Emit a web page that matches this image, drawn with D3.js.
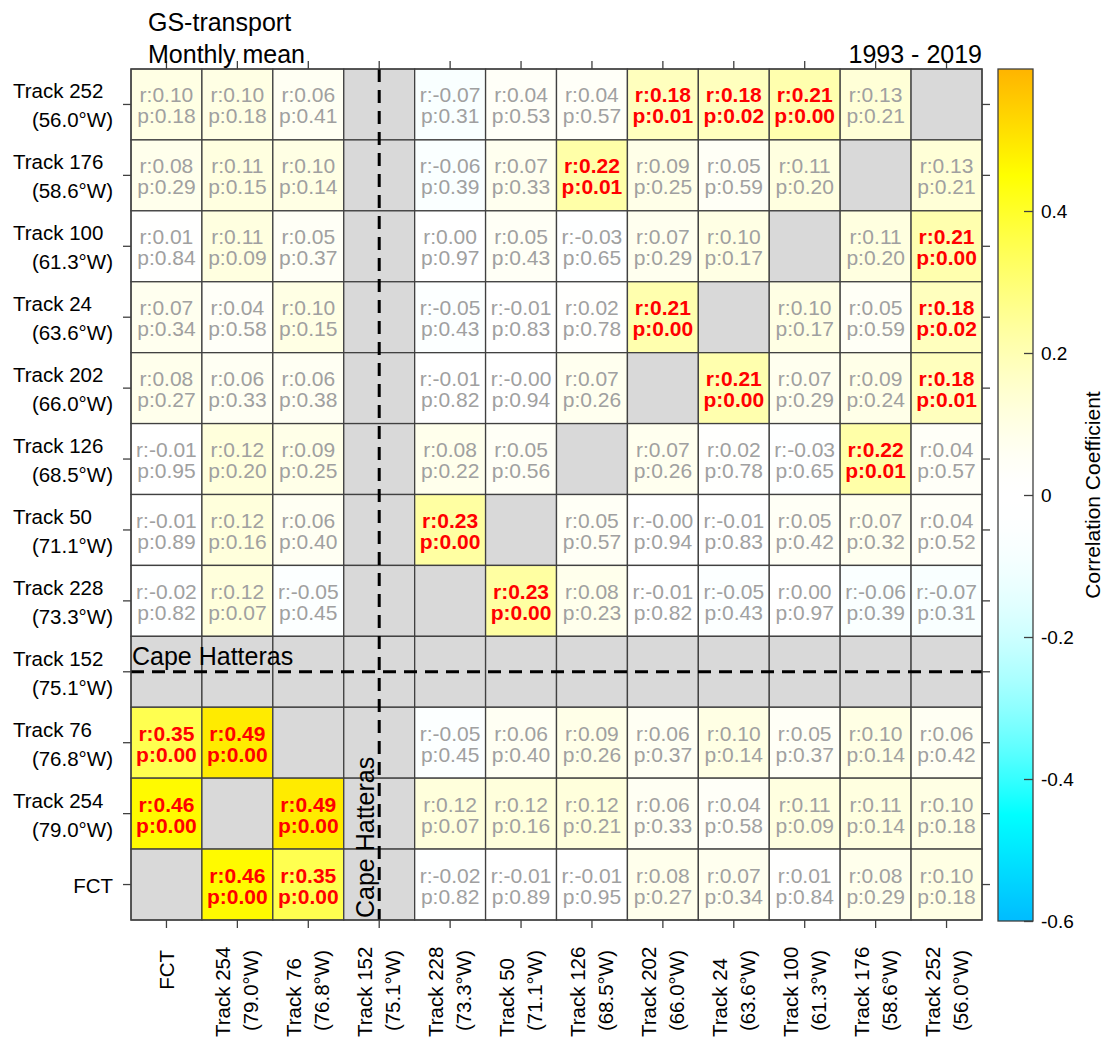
<!DOCTYPE html>
<html>
<head>
<meta charset="utf-8">
<script src="https://cdn.jsdelivr.net/npm/d3@7"></script>
<style>
  body { margin: 0; background: #fff; }
  svg { font-family: "Liberation Sans", Arial, sans-serif; }
</style>
</head>
<body>
<div id="chart"></div>
<script>
// rows top -> bottom, columns left -> right
const rowNames = ["Track 252", "Track 176", "Track 100", "Track 24", "Track 202", "Track 126",
                  "Track 50", "Track 228", "Track 152", "Track 76", "Track 254", "FCT"];
const rowLons = ["(56.0°W)", "(58.6°W)", "(61.3°W)", "(63.6°W)", "(66.0°W)", "(68.5°W)",
                 "(71.1°W)", "(73.3°W)", "(75.1°W)", "(76.8°W)", "(79.0°W)", ""];
const colNames = ["FCT", "Track 254", "Track 76", "Track 152", "Track 228", "Track 50",
                  "Track 126", "Track 202", "Track 24", "Track 100", "Track 176", "Track 252"];
const colLons = ["", "(79.0°W)", "(76.8°W)", "(75.1°W)", "(73.3°W)", "(71.1°W)",
                 "(68.5°W)", "(66.0°W)", "(63.6°W)", "(61.3°W)", "(58.6°W)", "(56.0°W)"];

// correlation coefficient r (null = no value, grey cell)
const rVals = [
  [0.10, 0.10, 0.06, null, -0.07, 0.04, 0.04, 0.18, 0.18, 0.21, 0.13, null],
  [0.08, 0.11, 0.10, null, -0.06, 0.07, 0.22, 0.09, 0.05, 0.11, null, 0.13],
  [0.01, 0.11, 0.05, null, 0.00, 0.05, -0.03, 0.07, 0.10, null, 0.11, 0.21],
  [0.07, 0.04, 0.10, null, -0.05, -0.01, 0.02, 0.21, null, 0.10, 0.05, 0.18],
  [0.08, 0.06, 0.06, null, -0.01, -0, 0.07, null, 0.21, 0.07, 0.09, 0.18],
  [-0.01, 0.12, 0.09, null, 0.08, 0.05, null, 0.07, 0.02, -0.03, 0.22, 0.04],
  [-0.01, 0.12, 0.06, null, 0.23, null, 0.05, -0, -0.01, 0.05, 0.07, 0.04],
  [-0.02, 0.12, -0.05, null, null, 0.23, 0.08, -0.01, -0.05, 0.00, -0.06, -0.07],
  [null, null, null, null, null, null, null, null, null, null, null, null],
  [0.35, 0.49, null, null, -0.05, 0.06, 0.09, 0.06, 0.10, 0.05, 0.10, 0.06],
  [0.46, null, 0.49, null, 0.12, 0.12, 0.12, 0.06, 0.04, 0.11, 0.11, 0.10],
  [null, 0.46, 0.35, null, -0.02, -0.01, -0.01, 0.08, 0.07, 0.01, 0.08, 0.10]
];
// p-values
const pVals = [
  [0.18, 0.18, 0.41, null, 0.31, 0.53, 0.57, 0.01, 0.02, 0.00, 0.21, null],
  [0.29, 0.15, 0.14, null, 0.39, 0.33, 0.01, 0.25, 0.59, 0.20, null, 0.21],
  [0.84, 0.09, 0.37, null, 0.97, 0.43, 0.65, 0.29, 0.17, null, 0.20, 0.00],
  [0.34, 0.58, 0.15, null, 0.43, 0.83, 0.78, 0.00, null, 0.17, 0.59, 0.02],
  [0.27, 0.33, 0.38, null, 0.82, 0.94, 0.26, null, 0.00, 0.29, 0.24, 0.01],
  [0.95, 0.20, 0.25, null, 0.22, 0.56, null, 0.26, 0.78, 0.65, 0.01, 0.57],
  [0.89, 0.16, 0.40, null, 0.00, null, 0.57, 0.94, 0.83, 0.42, 0.32, 0.52],
  [0.82, 0.07, 0.45, null, null, 0.00, 0.23, 0.82, 0.43, 0.97, 0.39, 0.31],
  [null, null, null, null, null, null, null, null, null, null, null, null],
  [0.00, 0.00, null, null, 0.45, 0.40, 0.26, 0.37, 0.14, 0.37, 0.14, 0.42],
  [0.00, null, 0.00, null, 0.07, 0.16, 0.21, 0.33, 0.58, 0.09, 0.14, 0.18],
  [null, 0.00, 0.00, null, 0.82, 0.89, 0.95, 0.27, 0.34, 0.84, 0.29, 0.18]
];
const colorTicks = [-0.6, -0.4, -0.2, 0, 0.2, 0.4];

const W = 1103, H = 1040;
const pLeft = 131, pRight = 982, pTop = 69, pBottom = 920;
const lineCol = "#404040";

const svg = d3.select("#chart").append("svg")
  .attr("width", W)
  .attr("height", H);

const x = d3.scaleBand().domain(colNames).range([pLeft, pRight]);
const y = d3.scaleBand().domain(rowNames).range([pTop, pBottom]);

// white -> yellow -> orange for positive, white -> cyan -> blue for negative
function corrColor(v) {
  const a = Math.abs(v);
  if (v >= 0) {
    if (a <= 0.45) return d3.interpolateRgb("#ffffff", "#ffff00")(Math.pow(a / 0.45, 1.5));
    return d3.interpolateRgb("#ffff00", "#ffb400")((a - 0.45) / 0.15);
  } else {
    if (a <= 0.45) return d3.interpolateRgb("#ffffff", "#00ffff")(Math.pow(a / 0.45, 2));
    return d3.interpolateRgb("#00ffff", "#00bcff")((a - 0.45) / 0.15);
  }
}
function fmt(v) {
  return (v < 0 || Object.is(v, -0) ? "-" : "") + Math.abs(v).toFixed(2);
}

const cells = [];
rowNames.forEach(function(rn, i) {
  colNames.forEach(function(cn, j) {
    cells.push({row: rn, col: cn, r: rVals[i][j], p: pVals[i][j]});
  });
});

// cells
svg.append("g").selectAll("rect")
  .data(cells)
  .join("rect")
    .attr("x", function(d) { return x(d.col); })
    .attr("y", function(d) { return y(d.row); })
    .attr("width", x.bandwidth())
    .attr("height", y.bandwidth())
    .style("fill", function(d) { return d.r === null ? "#d9d9d9" : corrColor(d.r); })
    .style("stroke", lineCol)
    .style("stroke-width", 1.3);

// cell text
const txt = svg.append("g").selectAll("text")
  .data(cells.filter(function(d) { return d.r !== null; }))
  .join("text")
    .attr("text-anchor", "middle")
    .style("font-size", "21px")
    .style("font-weight", function(d) { return d.p < 0.05 ? "bold" : "normal"; })
    .style("fill", function(d) { return d.p < 0.05 ? "#ff0000" : "#a0a0a0"; });
txt.append("tspan")
  .attr("x", function(d) { return x(d.col) + x.bandwidth() / 2; })
  .attr("y", function(d) { return y(d.row) + y.bandwidth() / 2 - 2; })
  .text(function(d) { return "r:" + fmt(d.r); });
txt.append("tspan")
  .attr("x", function(d) { return x(d.col) + x.bandwidth() / 2; })
  .attr("y", function(d) { return y(d.row) + y.bandwidth() / 2 + 19; })
  .text(function(d) { return "p:" + fmt(d.p); });

// Cape Hatteras dashed lines
const capeX = x("Track 152") + x.bandwidth() / 2;
const capeY = y("Track 152") + y.bandwidth() / 2;
svg.append("line")
  .attr("x1", pLeft).attr("x2", pRight)
  .attr("y1", capeY).attr("y2", capeY)
  .style("stroke", "#000").style("stroke-width", 3)
  .style("stroke-dasharray", "13,8");
svg.append("line")
  .attr("x1", capeX).attr("x2", capeX)
  .attr("y1", pTop).attr("y2", pBottom)
  .style("stroke", "#000").style("stroke-width", 3)
  .style("stroke-dasharray", "13,8");
svg.append("text")
  .attr("x", pLeft + 1)
  .attr("y", capeY - 7)
  .style("font-size", "25px")
  .text("Cape Hatteras");
svg.append("text")
  .attr("transform", `translate(${capeX - 5}, ${pBottom - 2}) rotate(-90)`)
  .style("font-size", "25px")
  .text("Cape Hatteras");

// frame
svg.append("rect")
  .attr("x", pLeft).attr("y", pTop)
  .attr("width", pRight - pLeft).attr("height", pBottom - pTop)
  .style("fill", "none").style("stroke", lineCol).style("stroke-width", 1.3);

// tick marks on all four sides
function ticksOnly(g) {
  g.select(".domain").remove();
  g.selectAll(".tick line").style("stroke", lineCol).style("stroke-width", 1.3);
}
svg.append("g").attr("transform", `translate(${pLeft},0)`)
  .call(d3.axisLeft(y).tickSize(8).tickFormat("")).call(ticksOnly);
svg.append("g").attr("transform", `translate(${pRight},0)`)
  .call(d3.axisRight(y).tickSize(8).tickFormat("")).call(ticksOnly);
svg.append("g").attr("transform", `translate(0,${pTop})`)
  .call(d3.axisTop(x).tickSize(8).tickFormat("")).call(ticksOnly);
svg.append("g").attr("transform", `translate(0,${pBottom})`)
  .call(d3.axisBottom(x).tickSize(8).tickFormat("")).call(ticksOnly);

// y tick labels
const yLab = svg.append("g").selectAll("g")
  .data(rowNames)
  .join("g")
    .style("font-size", "20.5px")
    .style("fill", "#000");
yLab.each(function(d, i) {
  const g = d3.select(this);
  const cy = y(d) + y.bandwidth() / 2;
  if (rowLons[i] === "") {
    g.append("text").attr("x", 113).attr("y", cy + 8).attr("text-anchor", "end").text(d);
  } else {
    g.append("text").attr("x", 13).attr("y", cy - 6).text(d);
    g.append("text").attr("x", 113).attr("y", cy + 23).attr("text-anchor", "end").text(rowLons[i]);
  }
});

// x tick labels (rotated)
const xLab = svg.append("g").selectAll("g")
  .data(colNames)
  .join("g")
    .style("font-size", "20.5px")
    .style("fill", "#000");
xLab.each(function(d, i) {
  const g = d3.select(this);
  const cx = x(d) + x.bandwidth() / 2;
  if (colLons[i] === "") {
    g.append("text").attr("text-anchor", "end")
      .attr("transform", `translate(${cx + 8},950) rotate(-90)`).text(d);
  } else {
    g.append("text")
      .attr("transform", `translate(${cx - 7},1037) rotate(-90)`).text(d);
    g.append("text").attr("text-anchor", "end")
      .attr("transform", `translate(${cx + 21},950) rotate(-90)`).text(colLons[i]);
  }
});

// titles
svg.append("text").attr("x", 148).attr("y", 31).style("font-size", "25px").text("GS-transport");
svg.append("text").attr("x", 148).attr("y", 63).style("font-size", "25px").text("Monthly mean");
svg.append("text").attr("x", pRight).attr("y", 63).attr("text-anchor", "end")
  .style("font-size", "25px").text("1993 - 2019");

// colorbar
const cbX = 998, cbW = 35;
const cScale = d3.scaleLinear().domain([-0.6, 0.6]).range([921, 69]);
const grad = svg.append("defs").append("linearGradient")
  .attr("id", "cbar")
  .attr("x1", 0).attr("x2", 0).attr("y1", 1).attr("y2", 0);
grad.selectAll("stop")
  .data(d3.range(0, 121))
  .join("stop")
    .attr("offset", function(d) { return d / 120; })
    .attr("stop-color", function(d) { return corrColor(-0.6 + d * 0.01); });
svg.append("rect")
  .attr("x", cbX).attr("y", cScale(0.6))
  .attr("width", cbW).attr("height", cScale(-0.6) - cScale(0.6))
  .style("fill", "url(#cbar)")
  .style("stroke", lineCol).style("stroke-width", 1.3);
const cAxis = svg.append("g")
  .attr("transform", `translate(${cbX + cbW},0)`)
  .call(d3.axisRight(cScale).tickValues(colorTicks).tickSizeInner(-9).tickSizeOuter(0)
    .tickPadding(8).tickFormat(function(d) { return d === 0 ? "0" : d.toFixed(1); }));
cAxis.select(".domain").remove();
cAxis.selectAll(".tick line").style("stroke", lineCol).style("stroke-width", 1.3);
cAxis.selectAll(".tick text")
  .style("font-size", "19px")
  .style("font-family", "'Liberation Sans', Arial, sans-serif")
  .style("fill", "#000");

svg.append("text")
  .attr("transform", `translate(1100,${(cScale(0.6) + cScale(-0.6)) / 2}) rotate(-90)`)
  .attr("text-anchor", "middle")
  .style("font-size", "21px")
  .text("Correlation Coefficient");
</script>
</body>
</html>
